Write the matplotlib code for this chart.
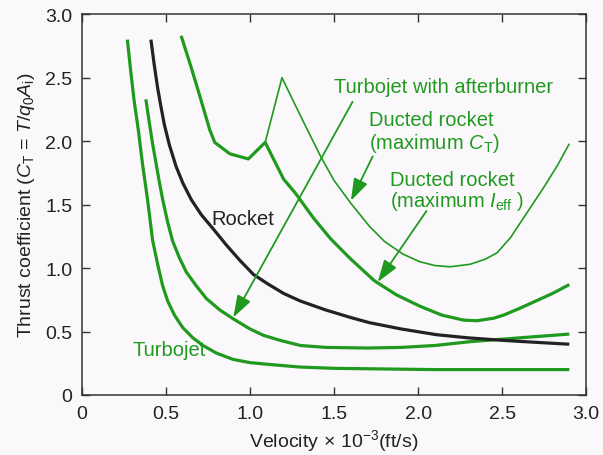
import matplotlib
matplotlib.use("Agg")
import matplotlib.pyplot as plt

plt.rcParams['font.family'] = ['Liberation Sans', 'DejaVu Sans']
plt.rcParams['mathtext.fontset'] = 'custom'
plt.rcParams['mathtext.rm'] = 'Liberation Sans'
plt.rcParams['mathtext.it'] = 'Liberation Sans:italic'

# ---- data (velocity x 1e-3 ft/s, thrust coefficient) ----
turbojet_x = [0.27, 0.29, 0.31, 0.335, 0.36, 0.39, 0.42, 0.45, 0.48, 0.51, 0.55, 0.60, 0.66,
              0.72, 0.80, 0.90, 1.00, 1.12, 1.30, 1.50, 1.80, 2.10, 2.50, 2.90]
turbojet_y = [2.80, 2.55, 2.32, 2.09, 1.82, 1.54, 1.22, 1.03, 0.86, 0.74, 0.63, 0.53, 0.45,
              0.39, 0.33, 0.28, 0.255, 0.24, 0.22, 0.21, 0.205, 0.20, 0.20, 0.20]

afterburner_x = [0.38, 0.40, 0.42, 0.44, 0.46, 0.48, 0.51, 0.54, 0.58, 0.62, 0.68, 0.74, 0.82,
                 0.90, 1.00, 1.08, 1.18, 1.30, 1.45, 1.70, 1.90, 2.10, 2.31, 2.60, 2.90]
afterburner_y = [2.33, 2.15, 1.98, 1.83, 1.68, 1.54, 1.36, 1.21, 1.08, 0.97, 0.86, 0.76, 0.67,
                 0.60, 0.52, 0.47, 0.43, 0.39, 0.375, 0.37, 0.375, 0.39, 0.42, 0.45, 0.48]

rocket_x = [0.41, 0.43, 0.45, 0.47, 0.49, 0.52, 0.56, 0.60, 0.65, 0.71, 0.78, 0.86, 0.94,
            1.02, 1.10, 1.20, 1.30, 1.45, 1.60, 1.71, 1.90, 2.11, 2.30, 2.51, 2.70, 2.90]
rocket_y = [2.80, 2.60, 2.42, 2.27, 2.13, 1.97, 1.80, 1.67, 1.54, 1.42, 1.31, 1.18, 1.06,
            0.95, 0.88, 0.80, 0.74, 0.67, 0.61, 0.57, 0.52, 0.475, 0.45, 0.43, 0.415, 0.40]

ducted_ieff_x = [0.59, 0.65, 0.70, 0.76, 0.79, 0.88, 0.99, 1.09, 1.20, 1.27, 1.38, 1.48, 1.60,
                 1.74, 1.87, 2.01, 2.14, 2.27, 2.35, 2.45, 2.51, 2.60, 2.70, 2.80, 2.90]
ducted_ieff_y = [2.83, 2.58, 2.36, 2.09, 1.99, 1.90, 1.86, 1.99, 1.70, 1.59, 1.39, 1.23, 1.07,
                 0.90, 0.79, 0.70, 0.63, 0.59, 0.585, 0.605, 0.63, 0.68, 0.74, 0.80, 0.87]

ducted_ct_x = [1.09, 1.19, 1.30, 1.42, 1.50, 1.60, 1.71, 1.80, 1.91, 2.01, 2.10, 2.19, 2.31,
               2.40, 2.47, 2.55, 2.65, 2.75, 2.83, 2.90]
ducted_ct_y = [1.99, 2.50, 2.20, 1.88, 1.69, 1.51, 1.33, 1.21, 1.11, 1.05, 1.02, 1.01, 1.03,
               1.07, 1.12, 1.24, 1.44, 1.64, 1.81, 1.98]

ticks = [0, 0.5, 1.0, 1.5, 2.0, 2.5, 3.0]
tick_labels = ['0', '0.5', '1.0', '1.5', '2.0', '2.5', '3.0']

GREEN = '#1f9a1f'
BLACK = '#222222'
BG = '#fbf8fb'

fig = plt.figure(figsize=(6.03, 4.56), dpi=100, facecolor=BG)
ax = fig.add_axes([0.136, 0.1316, 0.836, 0.835], facecolor=BG)

thick = 2.3
for xs, ys, c in [(turbojet_x, turbojet_y, GREEN), (afterburner_x, afterburner_y, GREEN),
                  (rocket_x, rocket_y, BLACK), (ducted_ieff_x, ducted_ieff_y, GREEN)]:
    ax.plot(xs, ys, color=c, lw=thick, solid_capstyle='butt', solid_joinstyle='round')
ax.plot(ducted_ct_x, ducted_ct_y, color=GREEN, lw=1.2, solid_capstyle='butt')

fs = 14.5
arrow = dict(arrowstyle='-|>,head_length=0.75,head_width=0.25', color=GREEN, lw=1.3,
             mutation_scale=18, shrinkA=0, shrinkB=0)
ax.annotate('', xy=(0.90, 0.61), xytext=(1.61, 2.31), arrowprops=arrow)
ax.annotate('', xy=(1.60, 1.53), xytext=(1.73, 1.88), arrowprops=arrow)
ax.annotate('', xy=(1.76, 0.89), xytext=(2.05, 1.45), arrowprops=arrow)

ax.text(2.15, 2.43, 'Turbojet with afterburner', color=GREEN, fontsize=fs,
        ha='center', va='center')
ax.text(1.71, 2.17, 'Ducted rocket', color=GREEN, fontsize=fs, ha='left', va='center')
ax.text(1.71, 1.99, r'(maximum $C_{\mathrm{T}}$)', color=GREEN, fontsize=fs, ha='left', va='center')
ax.text(1.83, 1.70, 'Ducted rocket', color=GREEN, fontsize=fs, ha='left', va='center')
ax.text(1.83, 1.53, r'(maximum $I_{\mathrm{eff}}$ )', color=GREEN, fontsize=fs, ha='left', va='center')
ax.text(0.77, 1.39, 'Rocket', color=BLACK, fontsize=fs, ha='left', va='center')
ax.text(0.30, 0.36, 'Turbojet', color=GREEN, fontsize=fs, ha='left', va='center')

ax.set_xlim(0, 3.0)
ax.set_ylim(0, 3.0)
ax.set_xticks(ticks)
ax.set_xticklabels(tick_labels)
ax.set_yticks(ticks)
ax.set_yticklabels(tick_labels)
ax.tick_params(direction='in', length=6, width=1, top=True, right=True,
               labelsize=14, colors='#333333', labelcolor='#222222', pad=7)
for s in ax.spines.values():
    s.set_color('#333333')
    s.set_linewidth(1.1)

ax.set_xlabel(r'Velocity$\,\times\,10^{-3}$(ft/s)', fontsize=14, color='#222222', labelpad=4)
ax.set_ylabel(r'Thrust coefficient ($C_{\mathrm{T}}$ = $T/q_0A_{\mathrm{i}}$)', fontsize=14,
              color='#222222', labelpad=6)

fig.savefig('out.png', dpi=100, facecolor=BG)
